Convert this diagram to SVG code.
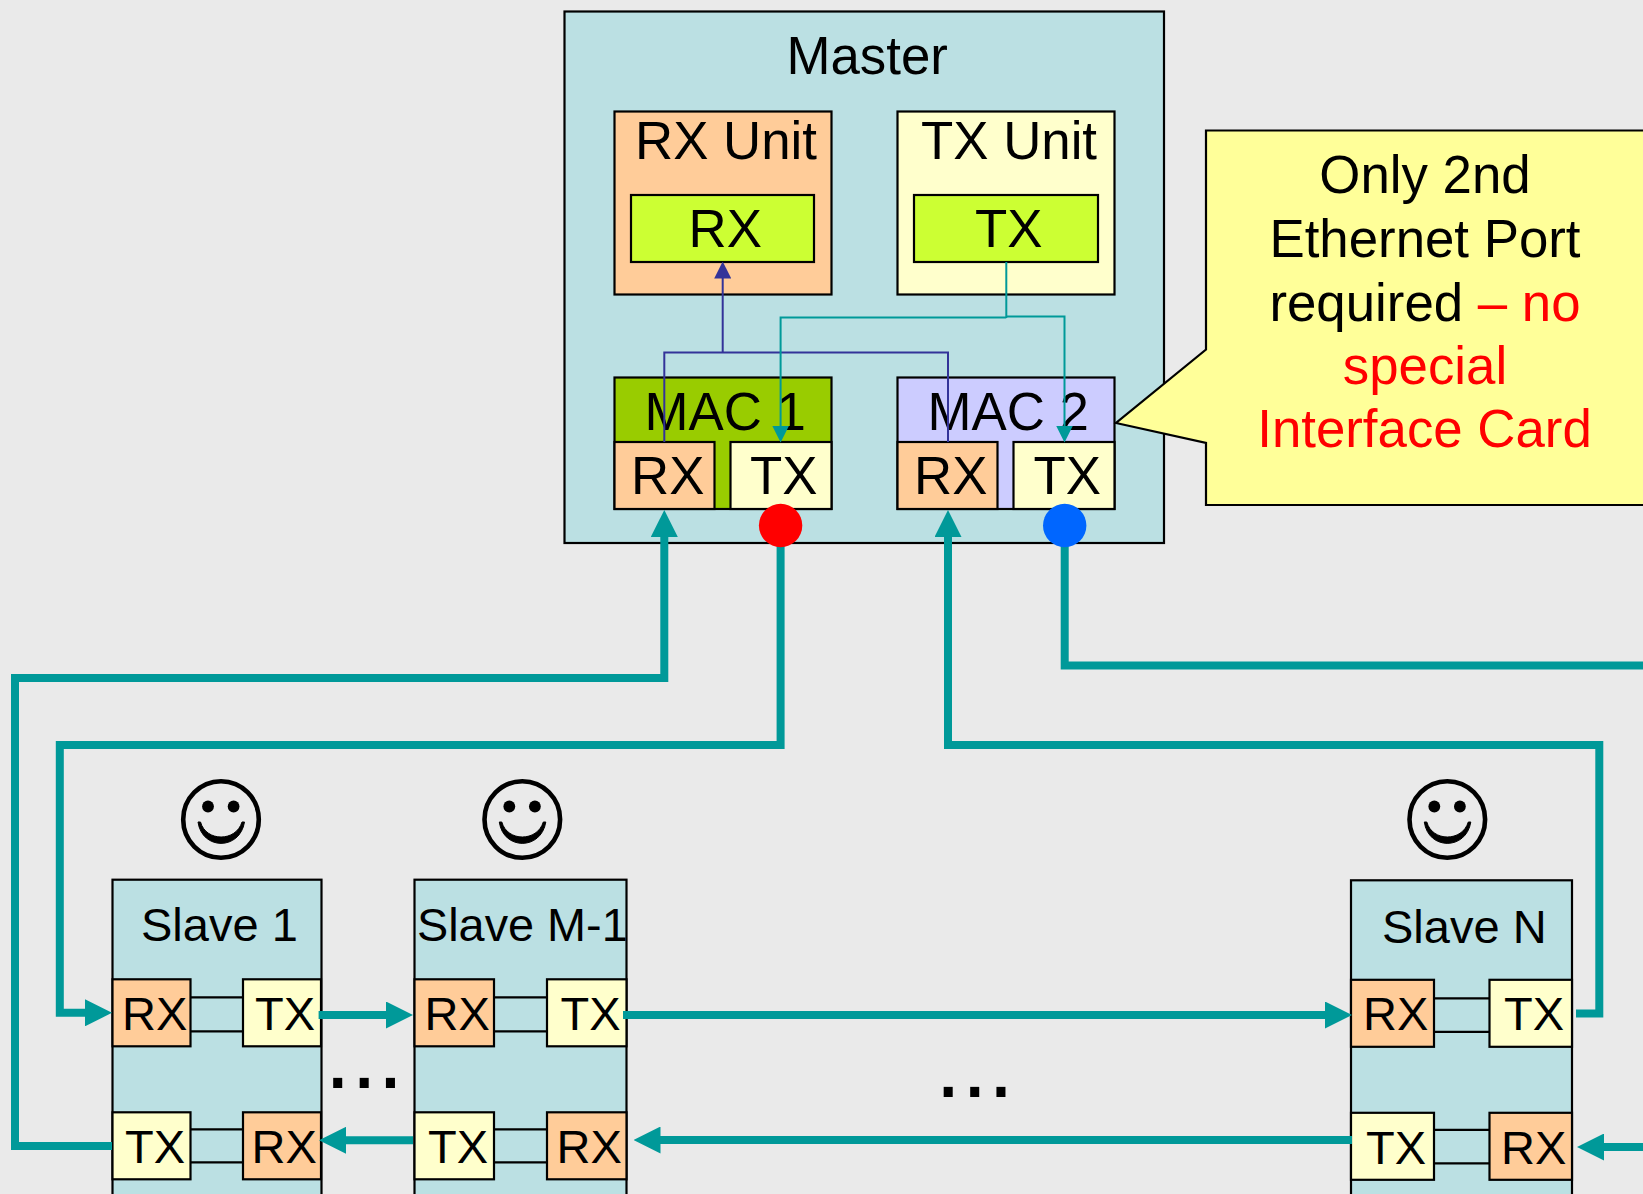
<svg xmlns="http://www.w3.org/2000/svg" width="1643" height="1194" viewBox="0 0 1643 1194">
<style>
text{font-family:"Liberation Sans",Arial,sans-serif;fill:#000}
.b{stroke:#000;stroke-width:2.2}
.panel{fill:#BBE0E3}
.rx{fill:#FFCC99}
.tx{fill:#FFFFCC}
.inner{fill:#CCFF33}
.t52{font-size:52.8px}
.t46{font-size:47px}
.t95{font-size:95px}
.red{fill:#FF0000}
.link{stroke:#000;stroke-width:2.2;fill:none}
.thick{fill:none;stroke:#009999;stroke-width:8;stroke-miterlimit:10}
.thinT{fill:none;stroke:#009999;stroke-width:2}
.thinB{fill:none;stroke:#333399;stroke-width:2}
.ah{marker-end:url(#bigArrow)}
</style>
<defs>
<marker id="bigArrow" markerUnits="userSpaceOnUse" markerWidth="27" markerHeight="27" viewBox="0 0 27 27" refX="2" refY="13.5" orient="auto"><path d="M0,0L27,13.5L0,27z" fill="#009999"/></marker>
<marker id="tealArrow" markerUnits="userSpaceOnUse" markerWidth="17" markerHeight="17" viewBox="0 0 17 17" refX="2" refY="8.5" orient="auto"><path d="M0,0L17,8.5L0,17z" fill="#009999"/></marker>
<marker id="blueArrow" markerUnits="userSpaceOnUse" markerWidth="17" markerHeight="17" viewBox="0 0 17 17" refX="2" refY="8.5" orient="auto"><path d="M0,0L17,8.5L0,17z" fill="#333399"/></marker>
<g id="smile">
<ellipse cx="0" cy="0" rx="37.8" ry="38.2" fill="none" stroke="#000" stroke-width="4.6"/>
<circle cx="-13" cy="-13" r="5.9" fill="#000"/>
<circle cx="12.6" cy="-13" r="5.9" fill="#000"/>
<path d="M-23,2.5C-19,31 19,31 23.5,2.5L21,2.5C15,22.5 -15,22.5 -20.5,2.5z" fill="#000" stroke="#000" stroke-width="1"/>
</g>
</defs>
<rect width="1643" height="1194" fill="#EAEAEA"/>

<g id="master">
<rect class="panel b" x="564.5" y="11.5" width="599.5" height="531.5"/>
<text class="t52" x="786.5" y="73.8">Master</text>
</g>
<g id="rx-unit">
<rect class="rx b" x="614.5" y="111.5" width="217" height="183"/>
<text class="t52" x="635" y="158.5">RX Unit</text>
<rect class="inner b" x="631" y="195" width="183" height="67"/>
<text class="t52" x="688.5" y="247">RX</text>
</g>
<g id="tx-unit">
<rect class="tx b" x="897.5" y="111.5" width="217" height="183"/>
<text class="t52" x="921" y="158.5">TX Unit</text>
<rect class="inner b" x="914" y="195" width="184" height="67"/>
<text class="t52" x="975" y="247">TX</text>
</g>
<g id="mac1">
<rect x="614.5" y="377.5" width="217" height="131.5" fill="#99CC00" class="b"/>
<text class="t52" x="644.5" y="429.5">MAC 1</text>
<rect class="rx b" x="614.5" y="442" width="100" height="67"/>
<text class="t52" x="631" y="494">RX</text>
<rect class="tx b" x="730.5" y="442" width="101" height="67"/>
<text class="t52" x="750" y="494">TX</text>
</g>
<g id="mac2">
<rect x="897.5" y="377.5" width="217" height="131.5" fill="#CCCCFF" class="b"/>
<text class="t52" x="927.5" y="429.5">MAC 2</text>
<rect class="rx b" x="897.5" y="442" width="100" height="67"/>
<text class="t52" x="914" y="494">RX</text>
<rect class="tx b" x="1013.5" y="442" width="101" height="67"/>
<text class="t52" x="1033.5" y="494">TX</text>
</g>

<g id="callout">
<path d="M1643,130.5H1206V349.5L1116,423L1206,443V505H1643" fill="#FFFF99" stroke="#000" stroke-width="2.2"/>
<text class="t52" text-anchor="middle" x="1425" y="193">Only 2nd</text>
<text class="t52" text-anchor="middle" x="1425" y="256.5">Ethernet Port</text>
<text class="t52" text-anchor="middle" x="1425" y="320.5">required <tspan class="red">– no</tspan></text>
<text class="t52 red" text-anchor="middle" x="1425" y="383.8">special</text>
<text class="t52 red" text-anchor="middle" x="1424.5" y="447">Interface Card</text>
</g>

<g id="slave-1">
<rect class="panel b" x="112.5" y="879.7" width="209" height="320"/>
<text class="t46" x="141" y="941.3">Slave 1</text>
<path class="link" d="M190,997.3H243M190,1031.3H243M190,1129.3H243M190,1162.3H243"/>
<rect class="rx b" x="112.5" y="979.3" width="78" height="67"/><text class="t46" x="122" y="1029.8">RX</text>
<rect class="tx b" x="243" y="979.3" width="78" height="67"/><text class="t46" x="255" y="1029.8">TX</text>
<rect class="tx b" x="112.5" y="1112.3" width="78" height="67"/><text class="t46" x="125" y="1163">TX</text>
<rect class="rx b" x="243" y="1112.3" width="78" height="67"/><text class="t46" x="251.5" y="1163">RX</text>
</g>
<g id="slave-m-1">
<rect class="panel b" x="414.5" y="879.7" width="212" height="320"/>
<text style="font-size:46.8px" x="417" y="941.3">Slave M-1</text>
<path class="link" d="M494,997.3H547M494,1031.3H547M494,1129.3H547M494,1162.3H547"/>
<rect class="rx b" x="414.5" y="979.3" width="79.5" height="67"/><text class="t46" x="424.5" y="1029.8">RX</text>
<rect class="tx b" x="547" y="979.3" width="79.5" height="67"/><text class="t46" x="560.5" y="1029.8">TX</text>
<rect class="tx b" x="414.5" y="1112.3" width="79.5" height="67"/><text class="t46" x="428" y="1163">TX</text>
<rect class="rx b" x="547" y="1112.3" width="79.5" height="67"/><text class="t46" x="556.5" y="1163">RX</text>
</g>
<g id="slave-n">
<rect class="panel b" x="1351" y="880.3" width="221" height="320"/>
<text class="t46" x="1382" y="942.5">Slave N</text>
<path class="link" d="M1434,998.3H1489M1434,1031.8H1489M1434,1129.8H1489M1434,1163.3H1489"/>
<rect class="rx b" x="1351" y="979.8" width="83" height="67"/><text class="t46" x="1363" y="1030.3">RX</text>
<rect class="tx b" x="1489.5" y="979.8" width="82.5" height="67"/><text class="t46" x="1504" y="1030.3">TX</text>
<rect class="tx b" x="1351" y="1112.8" width="83" height="67"/><text class="t46" x="1366" y="1163.8">TX</text>
<rect class="rx b" x="1489.5" y="1112.8" width="82.5" height="67"/><text class="t46" x="1501" y="1163.8">RX</text>
</g>
<use id="smiley-1" href="#smile" x="221" y="819.5"/>
<use id="smiley-m-1" href="#smile" x="522.3" y="819.5"/>
<use id="smiley-n" href="#smile" x="1447.3" y="819.5"/>
<text id="dots-1" class="t95" x="324.5" y="1088">...</text>
<text id="dots-2" class="t95" x="935" y="1097">...</text>

<g id="connectors">
<path class="thinB" marker-end="url(#blueArrow)" d="M722.7,352.5V276.5"/>
<path class="thinB" d="M664.3,442V352.5H948V442"/>
<path class="thinT" d="M1006.3,262V318"/>
<path class="thinT" marker-end="url(#tealArrow)" d="M1006.3,317.5H780.6V427.5"/>
<path class="thinT" marker-end="url(#tealArrow)" d="M1006.3,316.5H1064.5V427.5"/>
<path class="thick ah" d="M112,1146H15V678H664.3V535"/>
<path class="thick ah" d="M780.6,526V745H59.8V1012.8H87"/>
<path class="thick ah" d="M1576,1013.5H1599.3V745H948V535"/>
<path class="thick" d="M1064.7,526V665.4H1643"/>
<path class="thick ah" d="M318.6,1015H388"/>
<path class="thick ah" d="M623,1015H1327"/>
<path class="thick ah" d="M1352,1140H658.5"/>
<path class="thick ah" d="M413,1140.3H344"/>
<path class="thick ah" d="M1643,1147H1602"/>
</g>
<circle id="tx-dot-1" cx="780.6" cy="525.5" r="21.7" fill="#FF0000"/>
<circle id="tx-dot-2" cx="1064.7" cy="525.5" r="21.7" fill="#0066FF"/>
</svg>
